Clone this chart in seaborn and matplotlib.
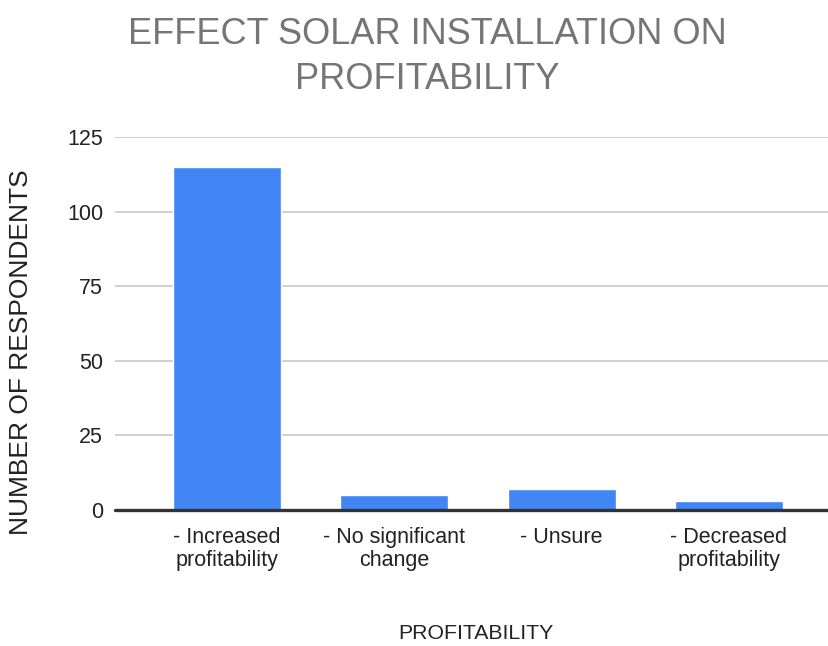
import matplotlib
matplotlib.use("Agg")
import matplotlib.pyplot as plt
import seaborn as sns
import pandas as pd

# Survey responses on how solar installation affected profitability
categories = [
    "- Increased\nprofitability",
    "- No significant\nchange",
    "- Unsure",
    "- Decreased\nprofitability",
]
respondents = [115, 5, 7, 3]
y_ticks = [0, 25, 50, 75, 100, 125]

title_text = "EFFECT SOLAR INSTALLATION ON\nPROFITABILITY"
x_title = "PROFITABILITY"
y_title = "NUMBER OF RESPONDENTS"

sns.set_theme(style="white")
plt.rcParams["font.family"] = ["Liberation Sans", "DejaVu Sans"]

df = pd.DataFrame({"category": categories, "respondents": respondents})

fig = plt.figure(figsize=(8.29, 6.46), dpi=100)
ax = fig.add_axes([0.1387, 0.2105, 0.8601, 0.5774])

sns.barplot(data=df, x="category", y="respondents", order=categories,
            color="#4285F4", saturation=1, width=0.646, ax=ax, zorder=2)

ax.set_xlim(-0.669, 3.592)
ax.set_ylim(0, 125)
ax.set_yticks(y_ticks)
ax.yaxis.grid(True, color="#cccccc", linewidth=1.3, zorder=0)
ax.set_axisbelow(True)
ax.axhline(0, color="#333333", linewidth=2.4, zorder=3, clip_on=False)

for s in ax.spines.values():
    s.set_visible(False)

ax.tick_params(axis="y", length=0, pad=8.6, labelsize=15.5, labelcolor="#222222")
ax.tick_params(axis="x", length=0, pad=12, labelsize=15.5, labelcolor="#222222")
for lbl in ax.get_xticklabels():
    lbl.set_linespacing(1.15)
ax.set_xlabel("")
ax.set_ylabel("")

fig.text(0.515, 0.9737, title_text, ha="center", va="top", fontsize=26.0,
         color="#757575", linespacing=1.36)
fig.text(0.574, 0.0200, x_title, ha="center", va="center", fontsize=15.3,
         color="#222222")
fig.text(0.0253, 0.455, y_title, ha="center", va="center", rotation=90,
         fontsize=19.0, color="#222222")

fig.savefig("out.png", dpi=100)
